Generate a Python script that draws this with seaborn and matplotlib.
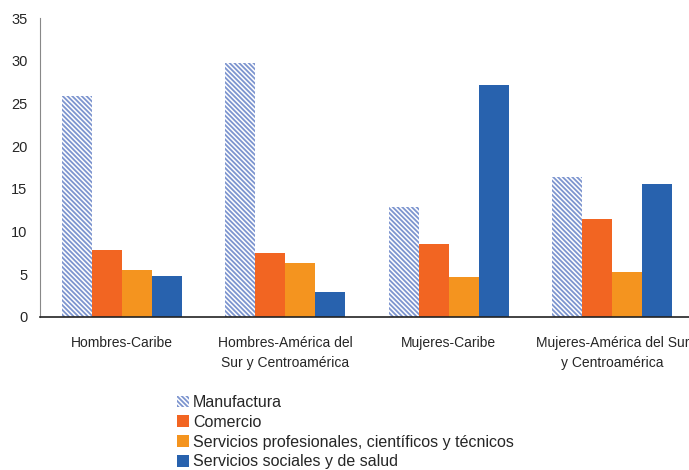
import pandas as pd
import matplotlib.pyplot as plt
import seaborn as sns
from matplotlib.patches import Patch

grupos = ['Hombres-Caribe', 'Hombres-América del\nSur y Centroamérica',
          'Mujeres-Caribe', 'Mujeres-América del Sur\ny Centroamérica']
sectores = ['Manufactura', 'Comercio',
            'Servicios profesionales, científicos y técnicos',
            'Servicios sociales y de salud']
manufactura = [25.9, 29.7, 12.9, 16.4]
comercio = [7.9, 7.5, 8.5, 11.5]
profesionales = [5.5, 6.3, 4.7, 5.3]
salud = [4.8, 2.9, 27.2, 15.6]

colores = ['#ffffff', '#f26522', '#f4941f', '#2862ae']
hatch_color = '#7d95cf'
patron = '\\' * 7

rows = []
for sec, vals in zip(sectores, [manufactura, comercio, profesionales, salud]):
    for g, v in zip(grupos, vals):
        rows.append({'grupo': g, 'sector': sec, 'valor': v})
df = pd.DataFrame(rows)

sns.set_style('white')
plt.rcParams['font.family'] = ['Liberation Sans', 'DejaVu Sans']
plt.rcParams['hatch.color'] = hatch_color
plt.rcParams['hatch.linewidth'] = 1.3

fig = plt.figure(figsize=(6.89, 4.70), dpi=100)
ax = fig.add_axes([40 / 689, 153 / 470, 654 / 689, 299 / 470])

sns.barplot(data=df, x='grupo', y='valor', hue='sector', palette=colores,
            saturation=1, width=0.735, linewidth=0, ax=ax, legend=False)

n = len(grupos)
for p in ax.patches[:n]:
    p.set_hatch(patron)
    p.set_edgecolor(hatch_color)
    p.set_linewidth(0)

ax.set_ylim(0, 35)
ax.set_xlim(-0.5, n - 0.5)
ax.set_yticks(range(0, 36, 5))
ax.set_xlabel('')
ax.set_ylabel('')
ax.set_xticks(range(n))
ax.set_xticklabels(grupos, fontsize=10, linespacing=1.5)
ax.set_xticks([i - 0.5 for i in range(n + 1)], minor=True)
ax.tick_params(axis='x', which='major', length=0, pad=14)
ax.tick_params(axis='x', which='minor', length=5, direction='in', color='#555555')
ax.tick_params(axis='y', length=4, direction='out', color='#555555', labelsize=10.5, pad=5)
for s in ['top', 'right']:
    ax.spines[s].set_visible(False)
ax.spines['left'].set_color('#888888')
ax.spines['bottom'].set_color('#222222')
ax.spines['bottom'].set_linewidth(1.2)

handles = [Patch(facecolor='white', edgecolor=hatch_color, hatch=patron, linewidth=0)]
handles += [Patch(facecolor=c, linewidth=0) for c in colores[1:]]
fig.legend(handles, sectores, loc='upper left', bbox_to_anchor=(177 / 689, 1 - 395 / 470),
           frameon=False, fontsize=11.5, handlelength=0.75, handleheight=0.75,
           handletextpad=0.25, labelspacing=0.3, borderaxespad=0, borderpad=0)

fig.savefig('out.png', dpi=100)
